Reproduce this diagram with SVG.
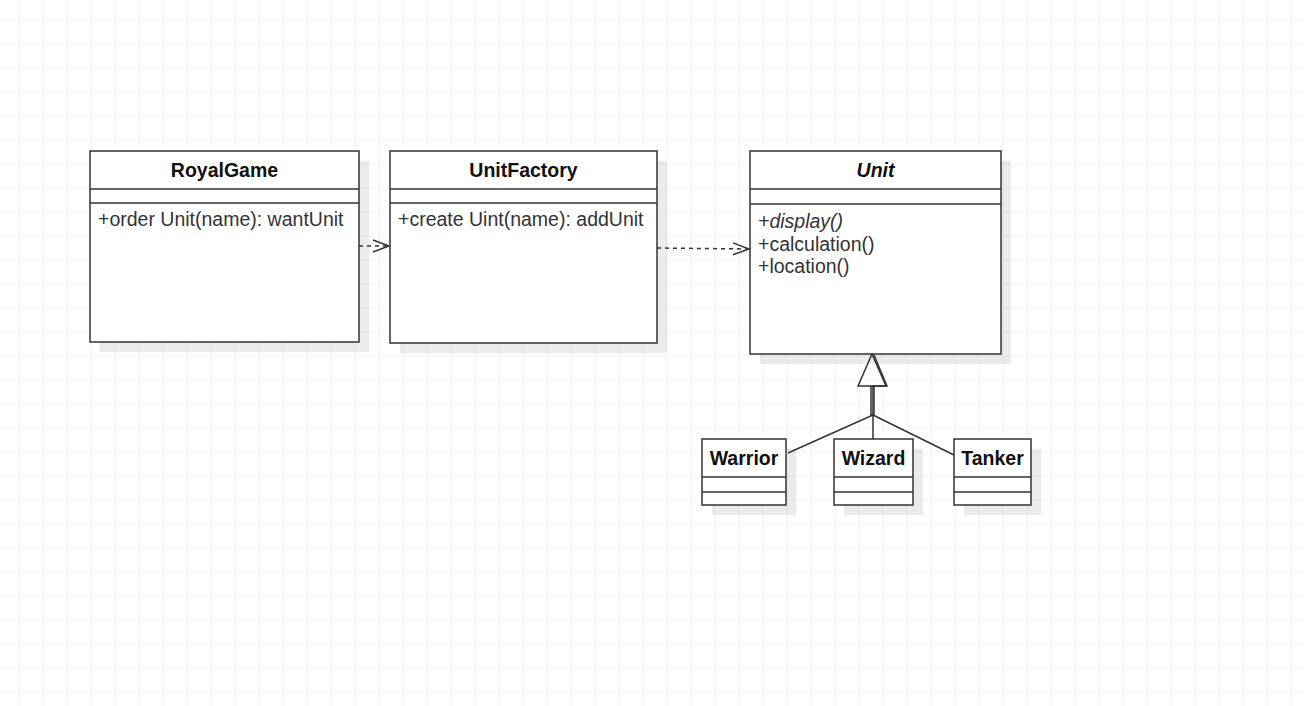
<svg xmlns="http://www.w3.org/2000/svg" width="1304" height="706" viewBox="0 0 1304 706">
<defs>
<pattern id="grid" x="18.5" y="19.5" width="24" height="24" patternUnits="userSpaceOnUse">
<path d="M0 0 V24 M0 0 H24" fill="none" stroke="#e8e8e8" stroke-width="1"/>
</pattern>
<marker id="open" viewBox="0 0 20 20" refX="18" refY="10" markerWidth="20" markerHeight="20" markerUnits="userSpaceOnUse" orient="auto">
<path d="M2 4 L18 10 L2 16" fill="none" stroke="#333" stroke-width="1.5"/>
</marker>
</defs>
<style>
.box{fill:#fff;stroke:#333;stroke-width:1.5}
.shadow{fill:#000;opacity:0.08}
.sep{stroke:#333;stroke-width:1.5}
.title{font-family:"Liberation Sans",Arial,sans-serif;font-size:19.5px;font-weight:bold;fill:#111;text-anchor:middle}
.it{font-style:italic}
.meth{font-family:"Liberation Sans",Arial,sans-serif;font-size:19.5px;fill:#333}
.dep{fill:none;stroke:#333;stroke-width:1.5;stroke-dasharray:4 4}
.gen{fill:none;stroke:#333;stroke-width:1.5}
</style>
<rect width="1304" height="706" fill="#fff"/>
<rect width="1304" height="706" fill="url(#grid)"/>

<g id="RoyalGame">
<rect class="shadow" x="100" y="161" width="269" height="191"/>
<rect class="box" x="90" y="151" width="269" height="191"/>
<line class="sep" x1="90" y1="189" x2="359" y2="189"/>
<line class="sep" x1="90" y1="203" x2="359" y2="203"/>
<text class="title" x="224.5" y="177">RoyalGame</text>
<text class="meth" x="98" y="226">+order Unit(name): wantUnit</text>
</g>

<g id="UnitFactory">
<rect class="shadow" x="400" y="161" width="267" height="192"/>
<rect class="box" x="390" y="151" width="267" height="192"/>
<line class="sep" x1="390" y1="189" x2="657" y2="189"/>
<line class="sep" x1="390" y1="203" x2="657" y2="203"/>
<text class="title" x="523.5" y="177">UnitFactory</text>
<text class="meth" x="398" y="226">+create Uint(name): addUnit</text>
</g>

<g id="Unit">
<rect class="shadow" x="760" y="161" width="251" height="203"/>
<rect class="box" x="750" y="151" width="251" height="203"/>
<line class="sep" x1="750" y1="189" x2="1001" y2="189"/>
<line class="sep" x1="750" y1="204" x2="1001" y2="204"/>
<text class="title it" x="875.5" y="177">Unit</text>
<text class="meth it" x="758" y="228">+display()</text>
<text class="meth" x="758" y="251">+calculation()</text>
<text class="meth" x="758" y="273">+location()</text>
</g>

<g id="Warrior">
<rect class="shadow" x="712" y="449" width="84" height="66"/>
<rect class="box" x="702" y="439" width="84" height="66"/>
<line class="sep" x1="702" y1="477" x2="786" y2="477"/>
<line class="sep" x1="702" y1="492" x2="786" y2="492"/>
<text class="title" x="744" y="465">Warrior</text>
</g>

<g id="Wizard">
<rect class="shadow" x="844" y="449" width="79" height="66"/>
<rect class="box" x="834" y="439" width="79" height="66"/>
<line class="sep" x1="834" y1="477" x2="913" y2="477"/>
<line class="sep" x1="834" y1="492" x2="913" y2="492"/>
<text class="title" x="873.5" y="465">Wizard</text>
</g>

<g id="Tanker">
<rect class="shadow" x="964" y="449" width="77" height="66"/>
<rect class="box" x="954" y="439" width="77" height="66"/>
<line class="sep" x1="954" y1="477" x2="1031" y2="477"/>
<line class="sep" x1="954" y1="492" x2="1031" y2="492"/>
<text class="title" x="992.5" y="465">Tanker</text>
</g>

<g id="connectors">
<line class="dep" x1="359" y1="246" x2="389" y2="246" marker-end="url(#open)"/>
<line class="dep" x1="657" y1="248" x2="749" y2="249" marker-end="url(#open)"/>
<polyline class="gen" points="788,453 873,415 873,386"/>
<polyline class="gen" points="873,439 873,415 871,415 871,386"/>
<polyline class="gen" points="954,455 873,415 874,415 874,386"/>
<polygon class="gen" points="872,354 858,386 886,386" fill="#fff"/>
<polyline class="gen" points="874,355 887,386 872,386"/>
</g>
</svg>
